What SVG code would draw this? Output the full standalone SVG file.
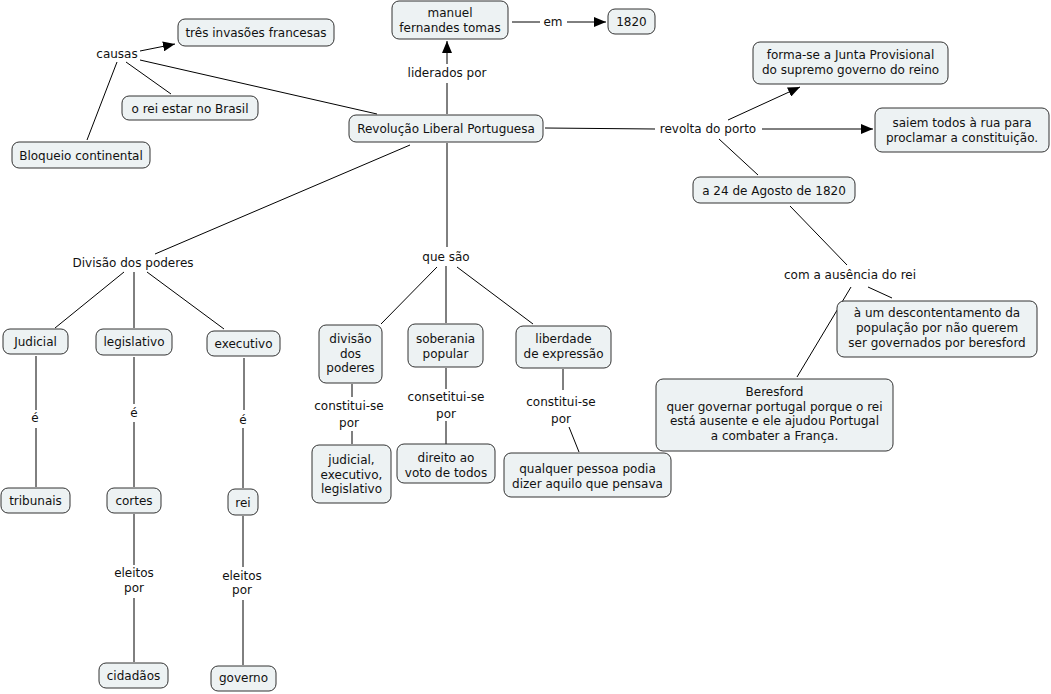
<svg xmlns="http://www.w3.org/2000/svg" width="1051" height="694" viewBox="0 0 1051 694">
<defs>
<marker id="arr" markerUnits="userSpaceOnUse" markerWidth="12" markerHeight="10" refX="12" refY="5" orient="auto">
<path d="M0,0 L12,5 L0,10 Z" fill="#000"/>
</marker>
<style>
.n rect{fill:#edf2f3;stroke:#333;stroke-width:1}
text{font-family:"DejaVu Sans",Verdana,sans-serif;font-size:12px;fill:#111;text-anchor:middle}
.c line{stroke:#000;stroke-width:1;fill:none}
.c .a{marker-end:url(#arr)}
</style>
</defs>
<rect width="1051" height="694" fill="#fff"/>
<g class="c">
<line class="a" x1="140" y1="51" x2="175" y2="44"/>
<line x1="126" y1="62" x2="171" y2="94"/>
<line x1="117" y1="62" x2="87" y2="140"/>
<line x1="140" y1="60" x2="377" y2="114"/>
<line x1="447" y1="114" x2="447" y2="83"/>
<line class="a" x1="447" y1="64" x2="447" y2="41"/>
<line x1="512" y1="22" x2="540" y2="22"/>
<line class="a" x1="567" y1="22" x2="606" y2="22"/>
<line x1="545" y1="128" x2="655" y2="129"/>
<line class="a" x1="728" y1="120" x2="800" y2="87"/>
<line class="a" x1="762" y1="129" x2="873" y2="129"/>
<line x1="719" y1="139" x2="758" y2="175"/>
<line x1="790" y1="206" x2="847" y2="265"/>
<line x1="868" y1="287" x2="892" y2="298"/>
<line x1="851" y1="287" x2="797" y2="377"/>
<line x1="410" y1="145" x2="155" y2="254"/>
<line x1="124" y1="272" x2="55" y2="328"/>
<line x1="134" y1="272" x2="134" y2="328"/>
<line x1="147" y1="272" x2="224" y2="329"/>
<line x1="36" y1="356" x2="36" y2="410"/>
<line x1="36" y1="428" x2="36" y2="487"/>
<line x1="134" y1="357" x2="134" y2="404"/>
<line x1="134" y1="422" x2="134" y2="487"/>
<line x1="244" y1="358" x2="244" y2="410"/>
<line x1="243" y1="428" x2="243" y2="488"/>
<line x1="134" y1="514" x2="134" y2="565"/>
<line x1="134" y1="598" x2="134" y2="662"/>
<line x1="243" y1="516" x2="243" y2="567"/>
<line x1="243" y1="600" x2="243" y2="665"/>
<line x1="447" y1="143" x2="447" y2="247"/>
<line x1="437" y1="267" x2="381" y2="324"/>
<line x1="446" y1="266" x2="446" y2="323"/>
<line x1="457" y1="267" x2="533" y2="324"/>
<line x1="352" y1="384" x2="352" y2="397"/>
<line x1="352" y1="431" x2="352" y2="444"/>
<line x1="446" y1="368" x2="446" y2="389"/>
<line x1="446" y1="421" x2="446" y2="444"/>
<line x1="563" y1="369" x2="563" y2="390"/>
<line x1="569" y1="427" x2="579" y2="452"/>
</g>
<g id="lbl-causas"><text x="117" y="58">causas</text></g>
<g id="lbl-em"><text x="553" y="26">em</text></g>
<g id="lbl-liderados"><text x="447" y="77">liderados por</text></g>
<g id="lbl-revolta"><text x="708" y="133">revolta do porto</text></g>
<g id="lbl-com"><text x="850" y="279">com a ausência do rei</text></g>
<g id="lbl-divisao"><text x="133" y="267">Divisão dos poderes</text></g>
<g id="lbl-e1"><text x="35" y="422">é</text></g>
<g id="lbl-e2"><text x="134" y="417">é</text></g>
<g id="lbl-e3"><text x="243" y="424">é</text></g>
<g id="lbl-eleitos1"><text x="134" y="577">eleitos</text><text x="134" y="592">por</text></g>
<g id="lbl-eleitos2"><text x="242" y="580">eleitos</text><text x="242" y="594">por</text></g>
<g id="lbl-quesao"><text x="446" y="261">que são</text></g>
<g id="lbl-const1"><text x="349" y="410">constitui-se</text><text x="349" y="427">por</text></g>
<g id="lbl-const2"><text x="446" y="401">consetitui-se</text><text x="446" y="418">por</text></g>
<g id="lbl-const3"><text x="561" y="406">constitui-se</text><text x="561" y="423">por</text></g>

<g id="n-tres" class="n"><rect x="178" y="19" width="156" height="27" rx="7"/><text x="256" y="37">três invasões francesas</text></g>
<g id="n-rei-brasil" class="n"><rect x="122" y="96" width="136" height="24" rx="7"/><text x="190" y="112.5">o rei estar no Brasil</text></g>
<g id="n-bloqueio" class="n"><rect x="12" y="142" width="138" height="26" rx="7"/><text x="81" y="159.5">Bloqueio continental</text></g>
<g id="n-revolucao" class="n"><rect x="349" y="115" width="194" height="27" rx="7"/><text x="446" y="133">Revolução Liberal Portuguesa</text></g>
<g id="n-manuel" class="n"><rect x="392" y="1" width="116" height="38" rx="7"/><text x="450" y="17">manuel</text><text x="450" y="32">fernandes tomas</text></g>
<g id="n-1820" class="n"><rect x="608" y="9" width="47" height="25" rx="7"/><text x="631.5" y="26">1820</text></g>
<g id="n-junta" class="n"><rect x="753" y="42" width="195" height="42" rx="7"/><text x="850.5" y="59">forma-se a Junta Provisional</text><text x="850.5" y="74">do supremo governo do reino</text></g>
<g id="n-saiem" class="n"><rect x="875" y="108" width="174" height="44" rx="7"/><text x="962" y="127">saiem todos à rua para</text><text x="962" y="142">proclamar a constituição.</text></g>
<g id="n-agosto" class="n"><rect x="693" y="177" width="162" height="26" rx="7"/><text x="774" y="194.5">a 24 de Agosto de 1820</text></g>
<g id="n-descontent" class="n"><rect x="837" y="301" width="200" height="56" rx="7"/><text x="937" y="317">à um descontentamento da</text><text x="937" y="332">população por não querem</text><text x="937" y="347">ser governados por beresford</text></g>
<g id="n-beresford" class="n"><rect x="656" y="379" width="237" height="72" rx="7"/><text x="774.5" y="396">Beresford</text><text x="774.5" y="410.7">quer governar portugal porque o rei</text><text x="774.5" y="425.4">está ausente e ele ajudou Portugal</text><text x="774.5" y="440">a combater a França.</text></g>
<g id="n-judicial" class="n"><rect x="3" y="329" width="65" height="25" rx="7"/><text x="35.5" y="346">Judicial</text></g>
<g id="n-legislativo" class="n"><rect x="96" y="329" width="76" height="26" rx="7"/><text x="134" y="345.5">legislativo</text></g>
<g id="n-executivo" class="n"><rect x="207" y="331" width="73" height="25" rx="7"/><text x="243.5" y="347.5">executivo</text></g>
<g id="n-tribunais" class="n"><rect x="1" y="488" width="69" height="25" rx="7"/><text x="35.5" y="504.5">tribunais</text></g>
<g id="n-cortes" class="n"><rect x="107" y="488" width="54" height="25" rx="7"/><text x="134" y="504.5">cortes</text></g>
<g id="n-rei" class="n"><rect x="228" y="489" width="30" height="26" rx="7"/><text x="243" y="507">rei</text></g>
<g id="n-cidadaos" class="n"><rect x="99" y="663" width="69" height="25" rx="7"/><text x="133.5" y="680">cidadãos</text></g>
<g id="n-governo" class="n"><rect x="211" y="666" width="65" height="25" rx="7"/><text x="243.5" y="682">governo</text></g>
<g id="n-divisao" class="n"><rect x="319" y="325" width="63" height="58" rx="7"/><text x="350.5" y="343">divisão</text><text x="350.5" y="357.5">dos</text><text x="350.5" y="372">poderes</text></g>
<g id="n-soberania" class="n"><rect x="408" y="324" width="75" height="43" rx="7"/><text x="445.5" y="343">soberania</text><text x="445.5" y="357.5">popular</text></g>
<g id="n-liberdade" class="n"><rect x="516" y="326" width="95" height="42" rx="7"/><text x="563.5" y="343">liberdade</text><text x="563.5" y="358">de expressão</text></g>
<g id="n-jel" class="n"><rect x="312" y="445" width="79" height="58" rx="7"/><text x="351.5" y="464">judicial,</text><text x="351.5" y="478.5">executivo,</text><text x="351.5" y="493">legislativo</text></g>
<g id="n-direito" class="n"><rect x="397" y="444" width="98" height="39" rx="7"/><text x="446" y="462">direito ao</text><text x="446" y="476.5">voto de todos</text></g>
<g id="n-qualquer" class="n"><rect x="504" y="453" width="167" height="44" rx="7"/><text x="587.5" y="473">qualquer pessoa podia</text><text x="587.5" y="487.5">dizer aquilo que pensava</text></g>
</svg>
